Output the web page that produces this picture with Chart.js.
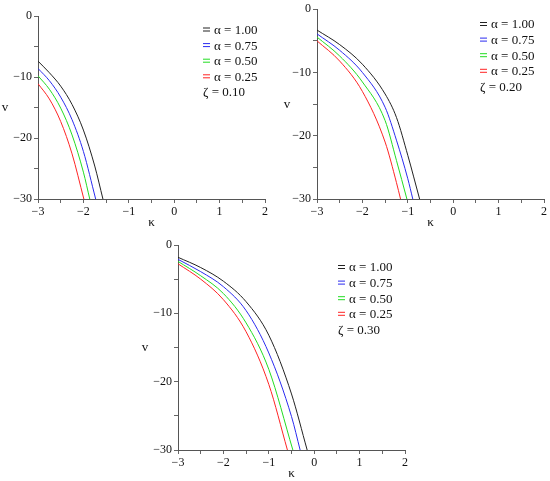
<!DOCTYPE html>
<html>
<head>
<meta charset="utf-8">
<script src="https://cdn.jsdelivr.net/npm/chart.js@4.4.0/dist/chart.umd.min.js"></script>
<style>
  body { margin: 0; background: #fff; }
  #wrap { position: relative; width: 550px; height: 481px; }
  canvas { position: absolute; }
</style>
</head>
<body>
<div id="wrap">
  <canvas id="c1" width="275" height="228" style="left:0;top:0"></canvas>
  <canvas id="c2" width="275" height="228" style="left:275px;top:0"></canvas>
  <canvas id="c3" width="280" height="246" style="left:140px;top:235px"></canvas>
</div>
<script>
// legend labels and zeta values
const alphaLabels = ['α = 1.00', 'α = 0.75', 'α = 0.50', 'α = 0.25'];
const zetaLabels = ['ζ = 0.10', 'ζ = 0.20', 'ζ = 0.30'];

// axis ticks
const xTicks = [-3, -2, -1, 0, 1, 2];
const yTicks = [0, -10, -20, -30];

// zeta = 0.10 : kappa and v for alpha 1.00, 0.75, 0.50, 0.25
const kappaZ1 = [
  [-3, -2.75, -2.5, -2.25, -2, -1.75, -1.57],
  [-3, -2.75, -2.5, -2.25, -2, -1.73],
  [-3, -2.75, -2.5, -2.25, -2, -1.86],
  [-3, -2.75, -2.5, -2.25, -1.99]
];
const vZ1 = [
  [-7.4, -9.3, -11.5, -14.5, -18.7, -24.6, -30],
  [-8.6, -10.6, -13.3, -17.0, -22.2, -30],
  [-9.8, -12.0, -15.1, -19.5, -25.6, -30],
  [-11.1, -13.6, -17.3, -22.6, -30]
];

// zeta = 0.20
const kappaZ2 = [
  [-3, -2.5, -2, -1.5, -1.25, -1, -0.74],
  [-3, -2.5, -2, -1.5, -1.25, -1, -0.89],
  [-3, -2.5, -2, -1.5, -1.25, -1.02],
  [-3, -2.5, -2, -1.5, -1.25, -1.16]
];
const vZ2 = [
  [-3.3, -5.6, -8.7, -13.4, -17.1, -23.1, -30],
  [-3.9, -6.5, -10.0, -15.5, -20.7, -26.8, -30],
  [-4.4, -7.4, -11.5, -17.6, -23.9, -30],
  [-5.0, -8.2, -13.0, -21.0, -27.4, -30]
];

// zeta = 0.30
const kappaZ3 = [
  [-3, -2.5, -2, -1.5, -1, -0.5, -0.155],
  [-3, -2.5, -2, -1.5, -1, -0.5, -0.31],
  [-3, -2.5, -2, -1.5, -1, -0.47],
  [-3, -2.5, -2, -1.5, -1, -0.59]
];
const vZ3 = [
  [-1.8, -3.3, -5.3, -8.3, -13.2, -21.8, -30],
  [-2.1, -3.9, -6.1, -9.6, -15.8, -25.1, -30],
  [-2.4, -4.5, -7.1, -11.4, -18.2, -30],
  [-2.75, -5.0, -8.0, -12.7, -20.4, -30]
];

const lineColors = ['#222222', '#2b2bf0', '#22dd22', '#ff2424'];
const serif = '"Liberation Serif", "DejaVu Serif", serif';

function fmt(v) {
  return String(v).replace('-', '\u2212');
}

// maple style legend + axis names drawn inside the canvas
const maplePlugin = {
  id: 'maple',
  afterDraw(chart, args, opts) {
    const ctx = chart.ctx;
    const a = chart.chartArea;
    ctx.save();
    ctx.fillStyle = '#111';
    ctx.textBaseline = 'middle';
    ctx.font = '13px ' + serif;
    ctx.textAlign = 'center';
    ctx.fillText('v', a.left - opts.vOff, (a.top + a.bottom) / 2);
    ctx.fillText('κ', (a.left + a.right) / 2, a.bottom + 24);

    ctx.textAlign = 'left';
    chart.data.datasets.forEach(function (ds, i) {
      const y = opts.ly + i * 15.6;
      ctx.strokeStyle = ds.borderColor;
      ctx.lineWidth = 1;
      ctx.beginPath();
      ctx.moveTo(opts.lx, y - 1.5); ctx.lineTo(opts.lx + 7, y - 1.5);
      ctx.moveTo(opts.lx, y + 1.5); ctx.lineTo(opts.lx + 7, y + 1.5);
      ctx.stroke();
      ctx.fillText(ds.label, opts.lx + 11, y + 1);
    });
    ctx.fillText(opts.zeta, opts.lx, opts.ly + 4 * 15.6 + 1);
    ctx.restore();
  }
};

function makePanel(id, kappa, v, zeta, box) {
  const datasets = alphaLabels.map(function (lab, i) {
    return {
      label: lab,
      data: kappa[i].map(function (k, j) { return { x: k, y: v[i][j] }; }),
      borderColor: lineColors[i],
      borderWidth: 1,
      pointRadius: 0,
      cubicInterpolationMode: 'monotone',
      fill: false
    };
  });

  new Chart(document.getElementById(id), {
    type: 'line',
    data: { datasets: datasets },
    plugins: [maplePlugin],
    options: {
      responsive: false,
      animation: false,
      layout: { padding: { top: box.top, right: box.right, left: 0, bottom: 0 } },
      plugins: {
        legend: { display: false },
        tooltip: { enabled: false },
        maple: { lx: box.lx, ly: box.ly, zeta: zeta, vOff: box.vOff }
      },
      scales: {
        x: {
          type: 'linear',
          min: -3, max: 2,
          afterFit: function (s) { s.height = box.xh; },
          ticks: {
            stepSize: 0.5,
            autoSkip: false,
            maxRotation: 0,
            padding: 2,
            color: '#111',
            font: { family: serif, size: 12 },
            callback: function (val) { return xTicks.includes(val) ? fmt(val) : ''; }
          },
          grid: { drawOnChartArea: false, tickLength: 4, color: '#666' },
          border: { color: '#555' }
        },
        y: {
          min: -30, max: 0,
          afterFit: function (s) { s.width = box.yw; },
          ticks: {
            stepSize: 5,
            autoSkip: false,
            padding: 2,
            color: '#111',
            font: { family: serif, size: 12 },
            callback: function (val) { return yTicks.includes(val) ? fmt(val) : ''; }
          },
          grid: { drawOnChartArea: false, tickLength: 4, color: '#666' },
          border: { color: '#555' }
        }
      }
    }
  });
}

makePanel('c1', kappaZ1, vZ1, zetaLabels[0], { top: 16, right: 10, yw: 38, xh: 29, lx: 203, ly: 29.5, vOff: 33 });
makePanel('c2', kappaZ2, vZ2, zetaLabels[1], { top: 7, right: 6, yw: 42, xh: 29, lx: 205, ly: 24, vOff: 30 });
makePanel('c3', kappaZ3, vZ3, zetaLabels[2], { top: 10, right: 15, yw: 38, xh: 31, lx: 198, ly: 32, vOff: 33 });
</script>
</body>
</html>
